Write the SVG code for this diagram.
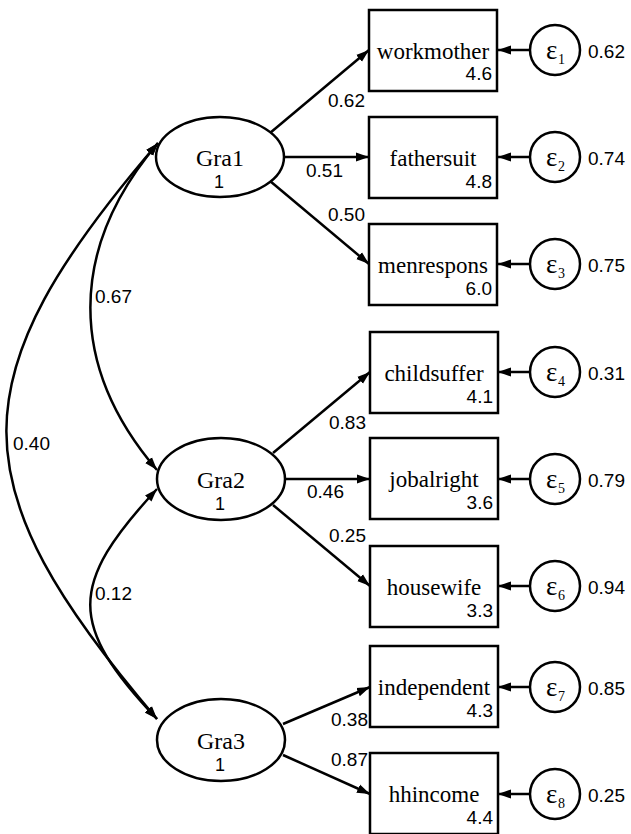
<svg xmlns="http://www.w3.org/2000/svg" width="631" height="834" viewBox="0 0 631 834">
<defs>
<marker id="ah" markerUnits="userSpaceOnUse" markerWidth="14" markerHeight="10" refX="13" refY="5" orient="auto-start-reverse">
<path d="M0,0.5 L13,5 L0,9.5 z" fill="#000"/>
</marker>
</defs>
<style>
.box{fill:#fff;stroke:#000;stroke-width:2.5}
.lat{fill:#fff;stroke:#000;stroke-width:2.5}
.err{fill:#fff;stroke:#000;stroke-width:2.5}
.nm{font-family:"Liberation Serif",serif;font-size:23px;text-anchor:middle;fill:#000}
.lnm{font-family:"Liberation Serif",serif;font-size:24px;text-anchor:middle;fill:#000}
.num{font-family:"Liberation Sans",sans-serif;font-size:19px;fill:#000}
.one{font-family:"Liberation Sans",sans-serif;font-size:18px;fill:#000;text-anchor:middle}
.r{text-anchor:end}
.eps{font-family:"Liberation Serif",serif;font-size:27px;fill:#000}
.sub{font-family:"Liberation Serif",serif;font-size:14px;fill:#000}
.ln{fill:none;stroke:#000;stroke-width:2.5}
.a{marker-end:url(#ah)}
.b{marker-start:url(#ah);marker-end:url(#ah)}
</style>
<g id="connectors">
<path class="ln a" d="M270,133 L369,50"/>
<path class="ln a" d="M284,157 L369,157"/>
<path class="ln a" d="M270,181 L369,264"/>
<path class="ln a" d="M273,453 L370,372"/>
<path class="ln a" d="M286,479 L370,479"/>
<path class="ln a" d="M273,505 L370,586"/>
<path class="ln a" d="M283,724 L370,687"/>
<path class="ln a" d="M283,755 L370,794"/>
<path class="ln a" d="M530,50 L498,50"/>
<path class="ln a" d="M530,157 L498,157"/>
<path class="ln a" d="M530,264 L498,264"/>
<path class="ln a" d="M530,372 L498,372"/>
<path class="ln a" d="M530,479 L498,479"/>
<path class="ln a" d="M530,586 L498,586"/>
<path class="ln a" d="M530,687 L498,687"/>
<path class="ln a" d="M530,794 L498,794"/>
<path class="ln b" d="M158,143 C68,249 68,366 157,470"/>
<path class="ln b" d="M157,489 C68,585 68,625 157,719"/>
<path class="ln b" d="M158,143 C-44,378 -44,484 157,719"/>
<text class="num" x="95" y="303">0.67</text>
<text class="num" x="95" y="600">0.12</text>
<text class="num" x="13" y="450">0.40</text>
<text class="num" x="328" y="107">0.62</text>
<text class="num" x="306" y="177">0.51</text>
<text class="num" x="328" y="221">0.50</text>
<text class="num" x="329" y="429">0.83</text>
<text class="num" x="307" y="498">0.46</text>
<text class="num" x="329" y="542">0.25</text>
<text class="num" x="331" y="726">0.38</text>
<text class="num" x="331" y="766">0.87</text>
</g>
<g id="Gra1"><ellipse class="lat" cx="220" cy="157" rx="64" ry="40"/><text class="lnm" x="220" y="166">Gra1</text><text class="one" x="219" y="188">1</text></g>
<g id="Gra2"><ellipse class="lat" cx="221" cy="479" rx="64" ry="41"/><text class="lnm" x="221" y="488">Gra2</text><text class="one" x="220" y="510">1</text></g>
<g id="Gra3"><ellipse class="lat" cx="221" cy="740" rx="64" ry="41"/><text class="lnm" x="221" y="749">Gra3</text><text class="one" x="220" y="771">1</text></g>
<g id="workmother"><rect class="box" x="369" y="10" width="128" height="81"/><text class="nm" x="433" y="59">workmother</text><text class="num r" x="492" y="80">4.6</text></g>
<g id="fathersuit"><rect class="box" x="369" y="117" width="128" height="81"/><text class="nm" x="433" y="166">fathersuit</text><text class="num r" x="492" y="188">4.8</text></g>
<g id="menrespons"><rect class="box" x="369" y="224" width="128" height="81"/><text class="nm" x="433" y="273">menrespons</text><text class="num r" x="492" y="295">6.0</text></g>
<g id="childsuffer"><rect class="box" x="370" y="332" width="128" height="81"/><text class="nm" x="434" y="381">childsuffer</text><text class="num r" x="493" y="403">4.1</text></g>
<g id="jobalright"><rect class="box" x="370" y="438" width="128" height="81"/><text class="nm" x="434" y="487">jobalright</text><text class="num r" x="493" y="509">3.6</text></g>
<g id="housewife"><rect class="box" x="370" y="546" width="128" height="81"/><text class="nm" x="434" y="595">housewife</text><text class="num r" x="493" y="617">3.3</text></g>
<g id="independent"><rect class="box" x="370" y="646" width="128" height="81"/><text class="nm" x="434" y="695">independent</text><text class="num r" x="493" y="717">4.3</text></g>
<g id="hhincome"><rect class="box" x="370" y="753" width="128" height="81"/><text class="nm" x="434" y="802">hhincome</text><text class="num r" x="493" y="824">4.4</text></g>
<g id="e1"><circle class="err" cx="555" cy="50" r="25"/><text class="eps" x="546" y="59">ε</text><text class="sub" x="558" y="64">1</text><text class="num" x="588" y="58">0.62</text></g>
<g id="e2"><circle class="err" cx="555" cy="157" r="25"/><text class="eps" x="546" y="166">ε</text><text class="sub" x="558" y="171">2</text><text class="num" x="588" y="165">0.74</text></g>
<g id="e3"><circle class="err" cx="555" cy="264" r="25"/><text class="eps" x="546" y="273">ε</text><text class="sub" x="558" y="278">3</text><text class="num" x="588" y="272">0.75</text></g>
<g id="e4"><circle class="err" cx="555" cy="372" r="25"/><text class="eps" x="546" y="381">ε</text><text class="sub" x="558" y="386">4</text><text class="num" x="588" y="380">0.31</text></g>
<g id="e5"><circle class="err" cx="555" cy="479" r="25"/><text class="eps" x="546" y="488">ε</text><text class="sub" x="558" y="493">5</text><text class="num" x="588" y="487">0.79</text></g>
<g id="e6"><circle class="err" cx="555" cy="586" r="25"/><text class="eps" x="546" y="595">ε</text><text class="sub" x="558" y="600">6</text><text class="num" x="588" y="594">0.94</text></g>
<g id="e7"><circle class="err" cx="555" cy="687" r="25"/><text class="eps" x="546" y="696">ε</text><text class="sub" x="558" y="701">7</text><text class="num" x="588" y="695">0.85</text></g>
<g id="e8"><circle class="err" cx="555" cy="794" r="25"/><text class="eps" x="546" y="803">ε</text><text class="sub" x="558" y="808">8</text><text class="num" x="588" y="802">0.25</text></g>
</svg>
